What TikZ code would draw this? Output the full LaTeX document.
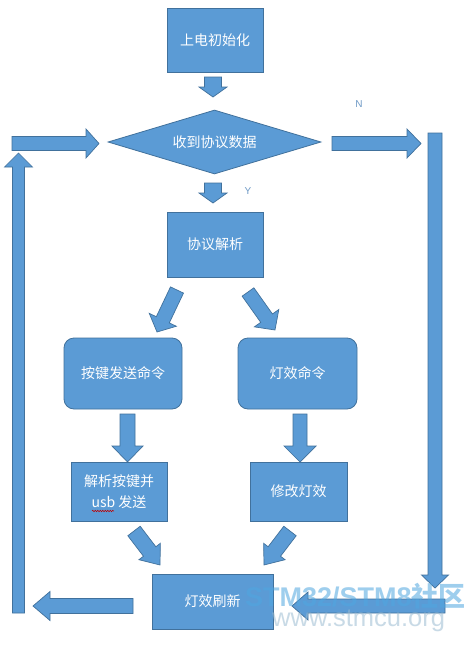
\documentclass[tikz,border=0pt]{standalone}
\usepackage{fontspec}
\setmainfont{Liberation Sans}
\newfontfamily\cjk{Noto Sans CJK SC}
\usetikzlibrary{shapes.geometric,decorations.pathmorphing}
\definecolor{boxfill}{HTML}{5B9BD5}
\definecolor{boxline}{HTML}{41719C}
\definecolor{lbl}{HTML}{6F9AC6}
\definecolor{wmblue}{HTML}{4FA6E0}
\definecolor{wmgray}{HTML}{9CBCD2}
\tikzset{
  x=1pt, y=-1pt,
  boxstyle/.style={draw=boxline, fill=boxfill, line width=0.8pt, text=white,
    font=\cjk\fontsize{14}{21}\selectfont, inner sep=0pt, align=center},
  rbox/.style={boxstyle, rounded corners=10pt},
  decision/.style={boxstyle, diamond, aspect=3.3},
  arrowshape/.style={draw=boxline, fill=boxfill, line width=0.7pt, line join=miter},
  yn/.style={text=lbl, font=\fontsize{10}{12}\selectfont, inner sep=0pt},
}
% block arrow: x1 y1 (tail centre), x2 y2 (tip), shaft half width, head half width, head length
\newcommand\blockarr[7]{%
  \pgfmathsetmacro\bax{#3-#1}%
  \pgfmathsetmacro\bay{#2-#4}%
  \pgfmathsetmacro\baang{atan2(\bay,\bax)}%
  \pgfmathsetmacro\balen{veclen(\bax,\bay)}%
  \pgfmathsetmacro\babase{\balen-#7}%
  \begin{scope}[shift={(#1,#2)}, rotate=\baang]
    \draw[arrowshape] (0,#5) -- (\babase,#5) -- (\babase,#6) -- (\balen,0)
      -- (\babase,-#6) -- (\babase,-#5) -- (0,-#5) -- cycle;
  \end{scope}}
\begin{document}
\begin{tikzpicture}
\useasboundingbox[fill=white] (0,0) rectangle (473,645);

% nodes
\node[boxstyle, minimum width=96pt, minimum height=64pt] (init) at (215,40) {上电初始化};
\node[decision, minimum width=213pt, minimum height=64pt] (recv) at (214.5,142) {收到协议数据};
\node[boxstyle, minimum width=96pt, minimum height=65pt] (parse) at (215,244.5) {协议解析};
\node[rbox, minimum width=118pt, minimum height=71pt] (keycmd) at (123,373.5) {按键发送命令};
\node[rbox, minimum width=119pt, minimum height=71pt] (lightcmd) at (297.5,373.5) {灯效命令};
\node[boxstyle, minimum width=96pt, minimum height=59pt] (keyusb) at (119,491.5) {解析按键并\\usb 发送};
\node[boxstyle, minimum width=97pt, minimum height=59pt] (modify) at (298.5,491.5) {修改灯效};
\node[boxstyle, minimum width=121pt, minimum height=55pt] (refresh) at (212.5,601.5) {灯效刷新};

% spell-check underline under "usb"
\coordinate (wavyA) at (92,511);
\coordinate (wavyB) at (114,511);
\draw[red!75!black, line width=0.5pt, decorate,
  decoration={snake, amplitude=0.8pt, segment length=2.5pt}] (wavyA) -- (wavyB);

% labels
\node[yn] (labN) at (359,104.5) {N};
\node[yn] (labY) at (248,191) {Y};

% block arrows
\blockarr{213}{77}{213}{97}{8.5}{14}{10}       % init -> decision
\blockarr{213}{183}{213}{203}{8.5}{14}{10}     % decision -> parse (Y)
\blockarr{12}{143.5}{99}{143.5}{7}{14.5}{13}   % loop -> decision
\blockarr{332}{143.5}{421}{143.5}{7}{14.5}{14} % decision -> N
\blockarr{18.5}{613}{18.5}{153}{6}{14}{14}     % left bar up
\blockarr{435}{133}{435}{588}{7}{13.5}{13}     % right bar down
\blockarr{445}{606}{292}{606}{7}{14}{16}       % into refresh
\blockarr{133}{606}{33}{606}{7.5}{14.5}{17}    % out of refresh
\blockarr{177}{290}{157}{332}{7.2}{15}{13.5}   % parse -> key cmd
\blockarr{248}{292}{275}{330}{7.2}{15}{14.5}   % parse -> light cmd
\blockarr{127.5}{414}{127.5}{462}{7.5}{15.5}{16} % key cmd -> keyusb
\blockarr{300}{414}{300}{462}{7}{16}{16}       % light cmd -> modify
\blockarr{134}{531}{160}{565}{7.8}{13.5}{17}   % keyusb -> refresh
\blockarr{290}{531}{264}{565}{7.8}{13.5}{17}   % modify -> refresh

% watermark (one two-line text block; base anchor = last baseline)
\node[anchor=base west, inner sep=0pt, opacity=0.55, align=left,
  font=\fontsize{27}{20}\selectfont] (wm) at (245,626)
  {{\color{wmblue}\bfseries STM32/STM8{\cjk 社区}}\\[0pt]
   \hspace*{27pt}{\color{wmgray}\fontsize{25.5}{20}\selectfont www.stmcu.org}};
\end{tikzpicture}
\end{document}
